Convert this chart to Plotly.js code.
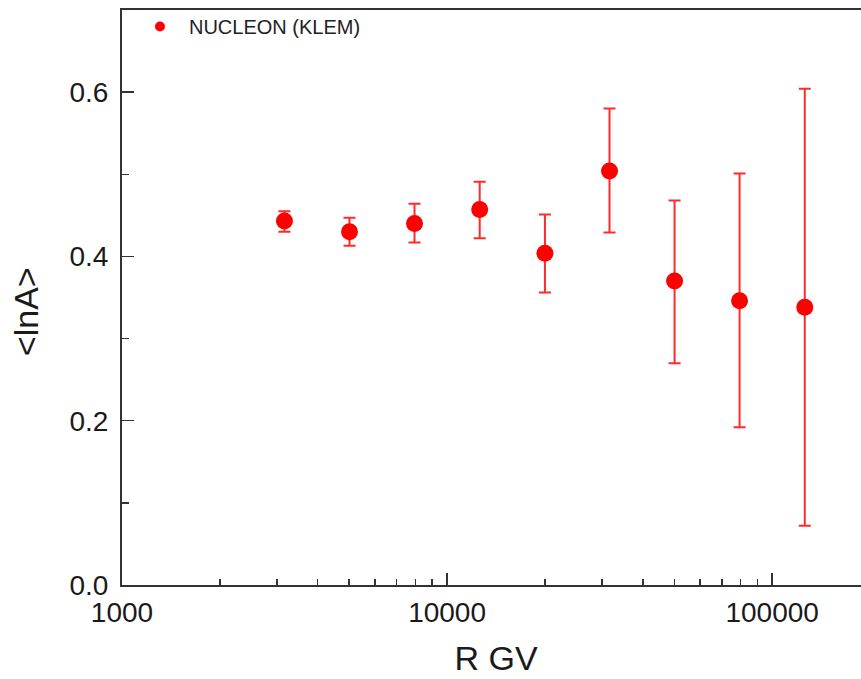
<!DOCTYPE html>
<html>
<head>
<meta charset="utf-8">
<script src="https://cdn.plot.ly/plotly-3.0.1.min.js"></script>
<style>
html, body { margin: 0; padding: 0; overflow: hidden; background: #fff; }
#chart { width: 878px; height: 679px; }
</style>
</head>
<body>
<div id="chart"></div>
<script>
// Data
var rigidityGV = [3160, 5010, 7940, 12600, 20000, 31600, 50100, 79400, 126000];
var meanLnA    = [0.443, 0.430, 0.440, 0.457, 0.404, 0.504, 0.370, 0.346, 0.338];
var errPlus    = [0.012, 0.017, 0.024, 0.034, 0.047, 0.076, 0.098, 0.155, 0.266];
var errMinus   = [0.013, 0.017, 0.023, 0.035, 0.048, 0.075, 0.100, 0.154, 0.266];

var xTickVals = [1000, 10000, 100000];
var xTickText = ['1000', '10000', '100000'];
var xMinorVals = [2000, 3000, 4000, 5000, 6000, 7000, 8000, 9000,
                  20000, 30000, 40000, 50000, 60000, 70000, 80000, 90000];
var yTickVals = [0, 0.2, 0.4, 0.6];
var yTickText = ['0.0', '0.2', '0.4', '0.6'];
var yMinorVals = [0.1, 0.3, 0.5];

var seriesName = 'NUCLEON (KLEM)';
var xTitle = 'R GV';
var yTitle = '&lt;lnA&gt;';

var red = '#ff0000';
var axisColor = '#333333';
var fontFam = '"Liberation Sans", Arial, sans-serif';

var traces = [
  {
    type: 'scatter', mode: 'markers',
    x: rigidityGV, y: meanLnA,
    marker: { color: red, size: 17 },
    error_y: { type: 'data', symmetric: false, array: errPlus, arrayminus: errMinus,
               color: 'rgba(255,20,20,0.9)', thickness: 2, width: 6 },
    showlegend: false, name: seriesName
  },
  {
    type: 'scatter', mode: 'markers',
    x: [null], y: [null],
    marker: { color: red, size: 10 },
    name: seriesName, showlegend: true
  }
];

var layout = {
  width: 878, height: 679,
  margin: { l: 122, r: 8, t: 9, b: 94 },
  paper_bgcolor: '#ffffff', plot_bgcolor: '#ffffff',
  font: { family: fontFam, color: '#1a1a1a' },
  showlegend: true,
  legend: { x: 0.012, y: 1.0035, xanchor: 'left', yanchor: 'top', bgcolor: 'rgba(0,0,0,0)',
            font: { size: 20, family: fontFam, color: '#222' }, itemwidth: 48 },
  xaxis: {
    type: 'log', range: [3, Math.log10(200000)],
    tickmode: 'array', tickvals: xTickVals, ticktext: xTickText,
    ticks: 'inside', ticklen: 12, tickwidth: 2, tickcolor: axisColor,
    minor: { tickmode: 'array', tickvals: xMinorVals, ticks: 'inside', ticklen: 6, tickwidth: 1.5, tickcolor: axisColor },
    showline: true, linecolor: axisColor, linewidth: 2, mirror: true,
    showgrid: false, zeroline: false,
    tickfont: { size: 28, family: fontFam, color: '#1a1a1a' },
    ticklabelstandoff: 1,
    title: { text: xTitle, font: { size: 34, family: fontFam, color: '#1a1a1a' }, standoff: 20 }
  },
  yaxis: {
    range: [0, 0.7],
    tickmode: 'array', tickvals: yTickVals, ticktext: yTickText,
    ticks: 'inside', ticklen: 12, tickwidth: 1.5, tickcolor: axisColor,
    minor: { tickmode: 'array', tickvals: yMinorVals, ticks: 'inside', ticklen: 7, tickwidth: 1.5, tickcolor: axisColor },
    showline: true, linecolor: axisColor, linewidth: 2, mirror: true,
    showgrid: false, zeroline: false,
    tickfont: { size: 28, family: fontFam, color: '#1a1a1a' },
    ticklabelstandoff: 6,
    title: { text: '' }
  },
  annotations: [
    { text: yTitle, xref: 'paper', yref: 'paper', x: -0.128, y: 0.475, xanchor: 'center', yanchor: 'middle',
      showarrow: false, textangle: -90, font: { size: 34, family: fontFam, color: '#1a1a1a' } }
  ]
};

Plotly.newPlot('chart', traces, layout, { displayModeBar: false, staticPlot: true });
</script>
</body>
</html>
